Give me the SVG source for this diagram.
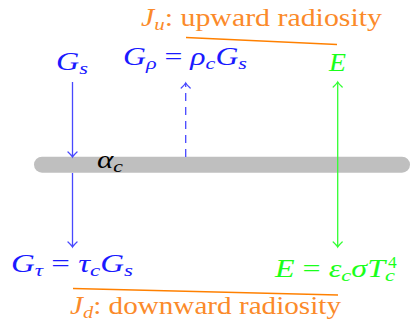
<svg xmlns="http://www.w3.org/2000/svg" width="412" height="329" viewBox="0 0 412 329">
<defs>
<marker id="ab" markerUnits="userSpaceOnUse" viewBox="-7 -6 9 12" markerWidth="9" markerHeight="12" refX="0" refY="0" orient="auto-start-reverse" overflow="visible">
<path d="M-5,-4.5 Q-1.5,-0.8 0,0 Q-1.5,0.8 -5,4.5" fill="none" stroke="#4848ff" stroke-width="1.3" stroke-linecap="round"/>
</marker>
<marker id="ag" markerUnits="userSpaceOnUse" viewBox="-7 -6 9 12" markerWidth="9" markerHeight="12" refX="0" refY="0" orient="auto-start-reverse" overflow="visible">
<path d="M-5,-4.5 Q-1.5,-0.8 0,0 Q-1.5,0.8 -5,4.5" fill="none" stroke="#33ff33" stroke-width="1.3" stroke-linecap="round"/>
</marker>
</defs>

<g id="surface">
<line x1="42" y1="164.7" x2="402" y2="164.7" stroke="#bfbfbf" stroke-width="16" stroke-linecap="round"/>
</g>

<g id="connectors" fill="none" stroke-width="1.3">
<line stroke="#4848ff" x1="72.5" y1="82" x2="72.5" y2="157" marker-end="url(#ab)"/>
<line stroke="#4848ff" x1="72.5" y1="173" x2="72.5" y2="247" marker-end="url(#ab)"/>
<line stroke="#4848ff" x1="185.7" y1="157" x2="185.7" y2="83" stroke-dasharray="8 6" marker-end="url(#ab)"/>
<line stroke="#33ff33" x1="337.7" y1="82" x2="337.7" y2="247" marker-start="url(#ag)" marker-end="url(#ag)"/>
<line stroke="#ff8000" x1="186" y1="37.5" x2="337" y2="44.5"/>
<line stroke="#ff8000" x1="73" y1="288.5" x2="338" y2="295"/>
</g>

<g id="Ju">
<text fill="#fb8a2a" font-family="Liberation Serif" font-size="25" x="141" y="26" textLength="241" lengthAdjust="spacingAndGlyphs"><tspan font-style="italic">J</tspan><tspan font-style="italic" font-size="17.5" dy="4">u</tspan><tspan dy="-4">: upward radiosity</tspan></text>
</g>
<g id="Gs">
<text fill="#1a1aff" font-family="Liberation Serif" font-size="25" x="56" y="70" textLength="32" lengthAdjust="spacingAndGlyphs"><tspan font-style="italic">G</tspan><tspan font-style="italic" font-size="17.5" dy="4">s</tspan></text>
</g>
<g id="Grho">
<text fill="#1a1aff" font-family="Liberation Serif" font-size="25" x="123" y="65" textLength="124" lengthAdjust="spacingAndGlyphs"><tspan font-style="italic">G</tspan><tspan font-style="italic" font-size="17.5" dy="4">ρ</tspan><tspan dy="-4"> = </tspan><tspan font-style="italic">ρ</tspan><tspan font-style="italic" font-size="17.5" dy="4">c</tspan><tspan font-style="italic" dy="-4">G</tspan><tspan font-style="italic" font-size="17.5" dy="4">s</tspan></text>
</g>
<g id="E">
<text fill="#1aff1a" font-family="Liberation Serif" font-size="25" font-style="italic" x="329" y="71" textLength="17" lengthAdjust="spacingAndGlyphs">E</text>
</g>
<g id="alpha">
<text fill="#000" font-family="Liberation Serif" font-size="25" x="97" y="168" textLength="26" lengthAdjust="spacingAndGlyphs"><tspan font-style="italic">α</tspan><tspan font-style="italic" font-size="17.5" dy="4">c</tspan></text>
</g>
<g id="Gtau">
<text fill="#1a1aff" font-family="Liberation Serif" font-size="25" x="11" y="272" textLength="122" lengthAdjust="spacingAndGlyphs"><tspan font-style="italic">G</tspan><tspan font-style="italic" font-size="17.5" dy="4">τ</tspan><tspan dy="-4"> = </tspan><tspan font-style="italic">τ</tspan><tspan font-style="italic" font-size="17.5" dy="4">c</tspan><tspan font-style="italic" dy="-4">G</tspan><tspan font-style="italic" font-size="17.5" dy="4">s</tspan></text>
</g>
<g id="Eemit">
<text fill="#1aff1a" font-family="Liberation Serif" font-size="25" x="275" y="277" textLength="120" lengthAdjust="spacingAndGlyphs"><tspan font-style="italic">E</tspan><tspan> = </tspan><tspan font-style="italic">ε</tspan><tspan font-style="italic" font-size="17.5" dy="4">c</tspan><tspan font-style="italic" dy="-4">σT</tspan><tspan font-style="italic" font-size="17.5" dy="4">c</tspan></text>
<text fill="#1aff1a" font-family="Liberation Serif" font-size="17.5" x="388" y="268">4</text>
</g>
<g id="Jd">
<text fill="#fb8a2a" font-family="Liberation Serif" font-size="25" x="70" y="314" textLength="271" lengthAdjust="spacingAndGlyphs"><tspan font-style="italic">J</tspan><tspan font-style="italic" font-size="17.5" dy="4">d</tspan><tspan dy="-4">: downward radiosity</tspan></text>
</g>
</svg>
